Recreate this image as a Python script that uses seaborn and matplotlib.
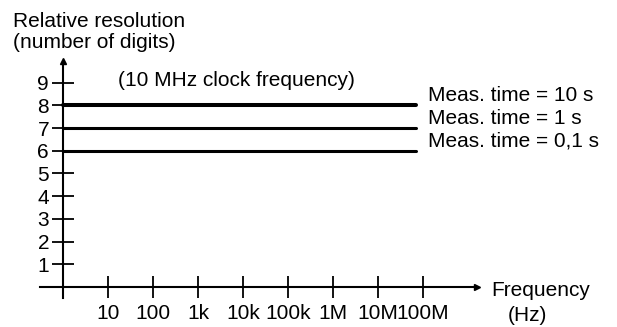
import numpy as np
import pandas as pd
import seaborn as sns
import matplotlib
matplotlib.use("Agg")
import matplotlib.pyplot as plt
from matplotlib.ticker import NullLocator, FixedLocator

# data
freq_ticks = [10, 100, 1e3, 1e4, 1e5, 1e6, 1e7, 1e8]
freq_labels = ['10', '100', '1k', '10k', '100k', '1M', '10M', '100M']
digit_ticks = [1, 2, 3, 4, 5, 6, 7, 8, 9]
meas_labels = ['Meas. time = 10 s', 'Meas. time = 1 s', 'Meas. time = 0,1 s']
meas_digits = [8, 7, 6]
line_freq = [1, 7e7]


def plot_chart():
    sns.set_style('white')
    plt.rcParams['font.family'] = ['Liberation Sans', 'DejaVu Sans']
    plt.rcParams['text.color'] = 'black'
    fs = 15

    fig = plt.figure(figsize=(6.17, 3.27), dpi=100)
    ax = fig.add_axes([0, 0, 1, 1])
    ax.set_facecolor('none')
    ax.set_xscale('log')
    ax.set_xlim(10 ** -1.4, 10 ** 12.31)
    ax.set_ylim(-1.76, 12.64)

    # horizontal resolution lines
    widths = [2.9, 2.2, 2.2]
    for lab, val, lw in zip(meas_labels, meas_digits, widths):
        df = pd.DataFrame({'freq': line_freq, 'digits': [val] * len(line_freq)})
        sns.lineplot(data=df, x='freq', y='digits', color='black',
                     linewidth=lw, ax=ax)
        ax.text(10 ** 8.11, val + 0.2, lab, fontsize=fs, va='baseline',
                ha='left', clip_on=False)

    # axes through the origin, with arrows
    for side in ['top', 'right']:
        ax.spines[side].set_visible(False)
    ax.spines['left'].set_position(('data', 1))
    ax.spines['bottom'].set_position(('data', 0))
    ax.spines['left'].set_bounds(-0.48, 9.9)
    ax.spines['bottom'].set_bounds(10 ** -0.51, 10 ** 9.15)
    for side in ['left', 'bottom']:
        ax.spines[side].set_linewidth(1.5)
        ax.spines[side].set_color('black')
    ax.plot([1], [9.95], marker='^', color='black', markersize=5, clip_on=False)
    ax.plot([10 ** 9.2], [0], marker='>', color='black', markersize=5, clip_on=False)

    ax.xaxis.set_major_locator(FixedLocator(freq_ticks))
    ax.xaxis.set_minor_locator(NullLocator())
    ax.set_xticklabels(freq_labels)
    ax.set_yticks(digit_ticks)
    ax.set_yticklabels([str(d) for d in digit_ticks])
    ax.tick_params(axis='both', direction='inout', length=16, width=1.3,
                   colors='black', labelsize=fs, bottom=True, left=True)
    ax.tick_params(axis='y', pad=2)
    ax.tick_params(axis='x', pad=4.5)
    ax.set_xlabel('')
    ax.set_ylabel('')

    # texts
    fig.text(13 / 617, 1 - 27 / 327, 'Relative resolution', fontsize=fs,
             va='baseline', ha='left')
    fig.text(13 / 617, 1 - 48 / 327, '(number of digits)', fontsize=fs,
             va='baseline', ha='left')
    ax.text(10 ** 1.22, 8.85, '(10 MHz clock frequency)', fontsize=fs,
            va='baseline', ha='left')
    fig.text(491 / 617, 1 - 296 / 327, 'Frequency', fontsize=fs,
             va='baseline', ha='left')
    fig.text(508 / 617, 1 - 321 / 327, '(Hz)', fontsize=fs,
             va='baseline', ha='left')

    fig.savefig('out.png', dpi=100)


def main():
    plot_chart()


if __name__ == "__main__":
    main()
